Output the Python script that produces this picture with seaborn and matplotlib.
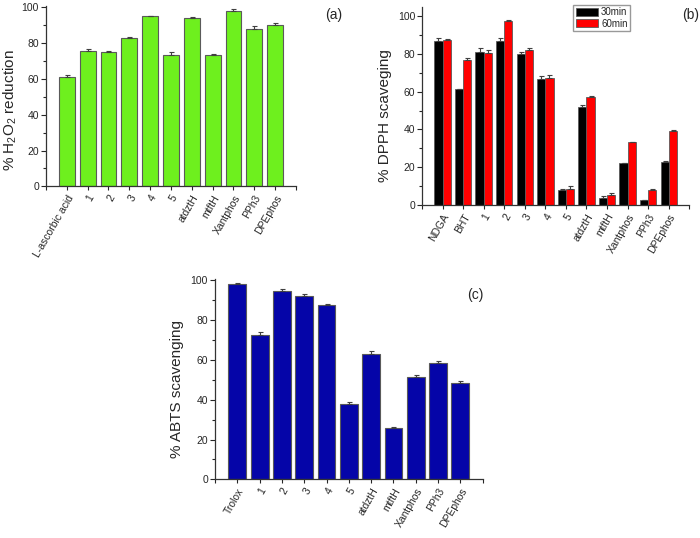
import numpy as np
import pandas as pd
import matplotlib
matplotlib.use("Agg")
import matplotlib.pyplot as plt
import seaborn as sns
from matplotlib.ticker import MultipleLocator

# ---- data ----
h2o2_labels = ['L-ascorbic acid', '1', '2', '3', '4', '5', 'atdztH', 'mtftH',
               'Xantphos', 'PPh3', 'DPEphos']
h2o2_values = [60.9, 75.8, 75.3, 83.1, 95.3, 73.2, 94.2, 73.6, 98.2, 88.0, 90.4]
h2o2_err = [1.3, 0.9, 0.5, 0.3, 0.2, 2.0, 0.4, 0.5, 0.7, 1.6, 1.1]

dpph_labels = ['NDGA', 'BHT', '1', '2', '3', '4', '5', 'atdztH', 'mtftH',
               'Xantphos', 'PPh3', 'DPEphos']
dpph_30 = [87.0, 61.2, 81.0, 87.1, 80.0, 66.8, 7.9, 52.0, 3.5, 22.0, 2.7, 22.7]
dpph_60 = [87.4, 76.7, 80.6, 97.7, 82.0, 67.4, 8.7, 57.0, 5.2, 33.2, 7.9, 39.0]
dpph_30_err = [1.5, 0.4, 1.9, 1.4, 0.8, 1.3, 0.6, 1.2, 1.4, 0.3, 0.2, 0.4]
dpph_60_err = [0.3, 1.4, 1.4, 0.5, 1.0, 1.6, 1.2, 0.8, 1.3, 0.3, 0.3, 0.8]
dpph_times = ['30min', '60min']

abts_labels = ['Trolox', '1', '2', '3', '4', '5', 'atdztH', 'mtftH',
               'Xantphos', 'PPh3', 'DPEphos']
abts_values = [98.2, 72.7, 94.5, 92.3, 87.4, 37.8, 63.1, 25.8, 51.2, 58.2, 48.3]
abts_err = [0.5, 1.5, 1.2, 0.6, 0.6, 0.8, 1.3, 0.7, 1.2, 1.2, 0.9]

sns.set_theme(style="ticks")
plt.rcParams['font.family'] = ['Liberation Sans', 'DejaVu Sans']
plt.rcParams['mathtext.default'] = 'regular'

EDGE = '#5a5a5a'
ERR = '#404040'


def style_axis(ax, names, ymax, ylabel, label_xy):
    n = len(names)
    ax.set_xlim(-1, n)
    ax.set_ylim(0, ymax)
    ax.set_xticks(range(-1, n + 1))
    ax.set_xticklabels([''] + names + [''], rotation=60, ha='right',
                       rotation_mode='anchor', fontsize=7.5)
    ax.yaxis.set_major_locator(MultipleLocator(20))
    ax.yaxis.set_minor_locator(MultipleLocator(10))
    ax.tick_params(axis='y', which='major', labelsize=7.5, length=3.5,
                   width=0.8, direction='out', pad=1.5)
    ax.tick_params(axis='y', which='minor', length=2, width=0.8, direction='out')
    ax.tick_params(axis='x', length=3, width=0.8, direction='out', pad=2)
    for side in ['top', 'right']:
        ax.spines[side].set_visible(False)
    for side in ['left', 'bottom']:
        ax.spines[side].set_color('#333333')
        ax.spines[side].set_linewidth(0.9)
    ax.set_xlabel('')
    ax.set_ylabel(ylabel, fontsize=11)
    ax.yaxis.set_label_coords(*label_xy)


def add_errors(ax, container, errs):
    xs = [p.get_x() + p.get_width() / 2 for p in container.patches]
    ys = [p.get_height() for p in container.patches]
    ax.errorbar(xs, ys, yerr=[np.zeros(len(errs)), errs], fmt='none',
                ecolor=ERR, elinewidth=0.8, capsize=1.8, capthick=0.8)


fig = plt.figure(figsize=(7.0, 5.38), dpi=100)

# (a) H2O2
ax_a = fig.add_axes([0.0657, 0.6537, 0.3571, 0.3357])
df_a = pd.DataFrame({'compound': h2o2_labels, 'value': h2o2_values})
sns.barplot(data=df_a, x='compound', y='value', color='#6ef01e', width=0.76,
            saturation=1, edgecolor=EDGE, linewidth=0.8, errorbar=None, ax=ax_a)
add_errors(ax_a, ax_a.containers[0], h2o2_err)
style_axis(ax_a, h2o2_labels, 101, '% H$_2$O$_2$ reduction', (-0.106, 0.42))

# (b) DPPH
ax_b = fig.add_axes([0.6029, 0.619, 0.3818, 0.3685])
df_b = pd.DataFrame({
    'compound': dpph_labels * 2,
    'time': [dpph_times[0]] * len(dpph_labels) + [dpph_times[1]] * len(dpph_labels),
    'value': dpph_30 + dpph_60,
})
sns.barplot(data=df_b, x='compound', y='value', hue='time',
            palette=['#000000', '#ff0000'], width=0.8, saturation=1,
            edgecolor=EDGE, linewidth=0.6, errorbar=None, ax=ax_b)
add_errors(ax_b, ax_b.containers[0], dpph_30_err)
add_errors(ax_b, ax_b.containers[1], dpph_60_err)
style_axis(ax_b, dpph_labels, 105, '% DPPH scaveging', (-0.112, 0.449))
ax_b.legend(loc='upper right', bbox_to_anchor=(0.9, 0.991),
            bbox_transform=fig.transFigure, fontsize=7, frameon=True,
            fancybox=False, edgecolor='#999999', framealpha=1,
            handlelength=2.3, handleheight=0.9, handletextpad=0.3,
            labelspacing=0.15, borderpad=0.25, borderaxespad=0)

# (c) ABTS
ax_c = fig.add_axes([0.3071, 0.1091, 0.3825, 0.3717])
df_c = pd.DataFrame({'compound': abts_labels, 'value': abts_values})
sns.barplot(data=df_c, x='compound', y='value', color='#0505a8', width=0.8,
            saturation=1, edgecolor=EDGE, linewidth=0.8, errorbar=None, ax=ax_c)
add_errors(ax_c, ax_c.containers[0], abts_err)
style_axis(ax_c, abts_labels, 100.5, '% ABTS scavenging', (-0.116, 0.45))

fig.text(0.476, 0.973, '(a)', fontsize=10, ha='center', va='center')
fig.text(0.986, 0.973, '(b)', fontsize=10, ha='center', va='center')
fig.text(0.679, 0.451, '(c)', fontsize=10, ha='center', va='center')

fig.savefig('out.png', dpi=100)
